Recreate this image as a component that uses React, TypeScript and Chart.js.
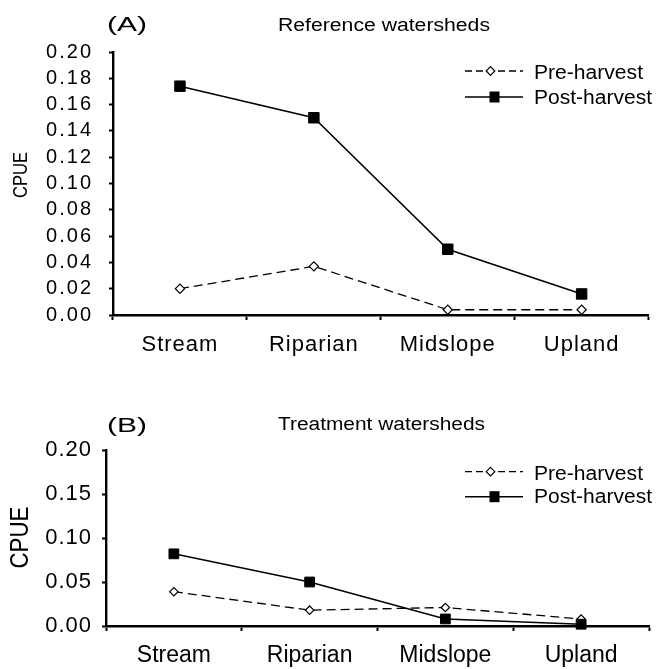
import React, { useEffect, useRef } from "react";
import { Chart, registerables } from "chart.js";

Chart.register(...registerables);

// ---- data ----
const categories = ["Stream", "Riparian", "Midslope", "Upland"];
const seriesNames = ["Pre-harvest", "Post-harvest"];
const referencePre = [0.02, 0.037, 0.004, 0.004];
const referencePost = [0.174, 0.15, 0.05, 0.016];
const treatmentPre = [0.039, 0.018, 0.021, 0.008];
const treatmentPost = [0.082, 0.05, 0.008, 0.002];
const referenceTickStep = 0.02;
const treatmentTickStep = 0.05;
const yMax = 0.2;
const yAxisTitle = "CPUE";

const FONT = "'Liberation Sans', Arial, Helvetica, sans-serif";

type PanelSpec = {
  label: string;
  title: string;
  pre: number[];
  post: number[];
  step: number;
  W: number;
  H: number;
  area: { left: number; right: number; top: number; bottom: number };
  yFont: number;
  ySpacing: number;
  yPad: number;
  xFont: number;
  xSpacing: number;
  xPad: number;
  sq: number;
  dia: number;
  labelPos: { x: number; y: number; w: number; size: number };
  titlePos: { x: number; y: number; w: number; size: number };
  legend: { lineY: number[]; textY: number[]; size: number };
  cpue: { x: number; y: number; len: number; size: number };
};

function fitText(
  ctx: CanvasRenderingContext2D,
  text: string,
  x: number,
  y: number,
  size: number,
  width: number,
  align: CanvasTextAlign,
  rotate = false
) {
  ctx.save();
  (ctx as any).letterSpacing = "0px";
  ctx.font = `${size}px ${FONT}`;
  const w = ctx.measureText(text).width;
  ctx.translate(x, y);
  if (rotate) ctx.rotate(-Math.PI / 2);
  ctx.scale(width / w, 1);
  ctx.textAlign = align;
  ctx.textBaseline = "alphabetic";
  ctx.fillStyle = "#000";
  ctx.fillText(text, 0, 0);
  ctx.restore();
}

function drawDiamond(ctx: CanvasRenderingContext2D, x: number, y: number, r: number) {
  ctx.save();
  ctx.setLineDash([]);
  ctx.beginPath();
  ctx.moveTo(x, y - r);
  ctx.lineTo(x + r, y);
  ctx.lineTo(x, y + r);
  ctx.lineTo(x - r, y);
  ctx.closePath();
  ctx.fillStyle = "#fff";
  ctx.fill();
  ctx.lineWidth = 1.2;
  ctx.strokeStyle = "#000";
  ctx.stroke();
  ctx.restore();
}

function makePlugin(p: PanelSpec) {
  return {
    id: "panelDeco",
    beforeDraw(chart: any) {
      chart.ctx.letterSpacing = `${p.ySpacing}px`;
    },
    afterDatasetsDraw(chart: any) {
      chart.ctx.letterSpacing = `${p.xSpacing}px`;
    },
    afterDraw(chart: any) {
      const ctx: CanvasRenderingContext2D = chart.ctx;
      (ctx as any).letterSpacing = "0px";
      fitText(ctx, p.label, p.labelPos.x, p.labelPos.y, p.labelPos.size, p.labelPos.w, "left");
      fitText(ctx, p.title, p.titlePos.x, p.titlePos.y, p.titlePos.size, p.titlePos.w, "left");
      fitText(ctx, yAxisTitle, p.cpue.x, p.cpue.y, p.cpue.size, p.cpue.len, "center", true);

      // legend
      const x0 = 465;
      const x1 = 523;
      const mx = 494.5;
      ctx.save();
      ctx.strokeStyle = "#000";
      ctx.lineWidth = 1.3;
      ctx.setLineDash([7, 4]);
      ctx.beginPath();
      ctx.moveTo(x0, p.legend.lineY[0]);
      ctx.lineTo(x1, p.legend.lineY[0]);
      ctx.stroke();
      ctx.restore();
      drawDiamond(ctx, mx - 4, p.legend.lineY[0], 4.3);
      ctx.save();
      ctx.strokeStyle = "#000";
      ctx.lineWidth = 1.5;
      ctx.setLineDash([]);
      ctx.beginPath();
      ctx.moveTo(x0, p.legend.lineY[1]);
      ctx.lineTo(x1, p.legend.lineY[1]);
      ctx.stroke();
      ctx.fillStyle = "#000";
      ctx.fillRect(mx - 5, p.legend.lineY[1] - 5.5, 10, 11);
      ctx.restore();
      fitText(ctx, seriesNames[0], 534, p.legend.textY[0], p.legend.size, 109, "left");
      fitText(ctx, seriesNames[1], 534, p.legend.textY[1], p.legend.size, 118, "left");
    },
  };
}

function Panel({ p, top }: { p: PanelSpec; top: number }) {
  const ref = useRef<HTMLCanvasElement | null>(null);
  useEffect(() => {
    if (!ref.current) return;
    const chart = new Chart(ref.current, {
      type: "line",
      data: {
        labels: categories,
        datasets: [
          {
            label: seriesNames[0],
            data: p.pre,
            borderColor: "#000",
            borderWidth: 1.3,
            borderDash: [9, 5],
            pointStyle: "rectRot",
            pointRadius: p.dia,
            pointBackgroundColor: "#fff",
            pointBorderColor: "#000",
            pointBorderWidth: 1.2,
            fill: false,
            tension: 0,
            clip: false,
            order: 2,
          } as any,
          {
            label: seriesNames[1],
            data: p.post,
            borderColor: "#000",
            borderWidth: 1.5,
            pointStyle: "rect",
            pointRadius: p.sq,
            pointBackgroundColor: "#000",
            pointBorderColor: "#000",
            pointBorderWidth: 1,
            fill: false,
            tension: 0,
            clip: false,
            order: 1,
          } as any,
        ],
      },
      options: {
        animation: false,
        responsive: false,
        devicePixelRatio: 1,
        events: [],
        layout: {
          padding: {
            left: 0,
            top: p.area.top,
            right: p.W - p.area.right,
            bottom: 0,
          },
        },
        plugins: {
          legend: { display: false },
          title: { display: false },
          tooltip: { enabled: false },
        },
        scales: {
          x: {
            type: "category",
            offset: true,
            grid: {
              display: true,
              drawOnChartArea: false,
              drawTicks: true,
              tickLength: 5,
              tickWidth: 2,
              tickColor: "#000",
              color: "#000",
              offset: true,
            },
            border: { display: true, color: "#000", width: 2.6 },
            ticks: {
              z: 1,
              color: "#000",
              font: { family: FONT, size: p.xFont },
              padding: p.xPad,
              autoSkip: false,
              maxRotation: 0,
              minRotation: 0,
            },
            afterFit: (s: any) => {
              s.height = p.H - p.area.bottom;
            },
          },
          y: {
            type: "linear",
            min: 0,
            max: yMax,
            grid: {
              display: true,
              drawOnChartArea: false,
              drawTicks: true,
              tickLength: 4,
              tickWidth: 2,
              tickColor: "#000",
              color: "#000",
            },
            border: { display: true, color: "#000", width: 2.4 },
            ticks: {
              stepSize: p.step,
              autoSkip: false,
              color: "#000",
              font: { family: FONT, size: p.yFont },
              padding: p.yPad,
              callback: (v: any) => Number(v).toFixed(2),
            },
            afterFit: (s: any) => {
              s.width = p.area.left;
            },
          },
        },
      } as any,
      plugins: [makePlugin(p) as any],
    });
    return () => chart.destroy();
  }, [p]);
  return (
    <canvas
      ref={ref}
      width={p.W}
      height={p.H}
      style={{ position: "absolute", left: 0, top, width: p.W, height: p.H, display: "block" }}
    />
  );
}

const panelA: PanelSpec = {
  label: "(A)",
  title: "Reference watersheds",
  pre: referencePre,
  post: referencePost,
  step: referenceTickStep,
  W: 657,
  H: 372,
  area: { left: 113, right: 649, top: 52, bottom: 315 },
  yFont: 20,
  ySpacing: 2,
  yPad: 16,
  xFont: 22,
  xSpacing: 1,
  xPad: 12,
  sq: 7.4,
  dia: 4.6,
  labelPos: { x: 107, y: 31, w: 40, size: 20 },
  titlePos: { x: 278, y: 31, w: 212, size: 18 },
  legend: { lineY: [71, 97], textY: [79, 104], size: 20 },
  cpue: { x: 27, y: 175, len: 46, size: 21 },
};

const panelB: PanelSpec = {
  label: "(B)",
  title: "Treatment watersheds",
  pre: treatmentPre,
  post: treatmentPost,
  step: treatmentTickStep,
  W: 657,
  H: 289,
  area: { left: 106, right: 649, top: 70, bottom: 246 },
  yFont: 22,
  ySpacing: 1,
  yPad: 10,
  xFont: 23,
  xSpacing: 0,
  xPad: 11,
  sq: 6.9,
  dia: 4.2,
  labelPos: { x: 107, y: 51.5, w: 40, size: 20 },
  titlePos: { x: 278, y: 50, w: 207, size: 18 },
  legend: { lineY: [91.7, 116.7], textY: [100, 123], size: 20 },
  cpue: { x: 28, y: 157.5, len: 62, size: 25 },
};

export default function App() {
  return (
    <div
      style={{
        position: "absolute",
        left: 0,
        top: 0,
        width: 657,
        height: 669,
        background: "#fff",
        overflow: "hidden",
      }}
    >
      <Panel p={panelA} top={0} />
      <Panel p={panelB} top={380} />
    </div>
  );
}
